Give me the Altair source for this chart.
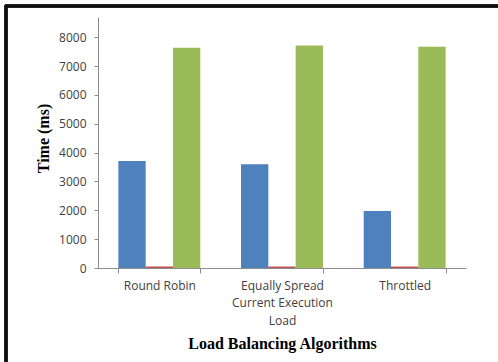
import altair as alt
import pandas as pd

# Load balancing algorithms (x categories); "|" marks a line break in the label
algorithms = ["Round Robin", "Equally Spread|Current Execution|Load", "Throttled"]
series = ["Average", "Minimum", "Maximum"]
colors = ["#4F81BD", "#C0504D", "#9BBB59"]

average_ms = [3710, 3600, 1980]
minimum_ms = [50, 50, 50]
maximum_ms = [7630, 7710, 7665]

y_ticks = [0, 1000, 2000, 3000, 4000, 5000, 6000, 7000, 8000]

rows = []
for i, alg in enumerate(algorithms):
    for s, vals in zip(series, [average_ms, minimum_ms, maximum_ms]):
        rows.append({"algorithm": alg, "series": s, "time": vals[i]})
df = pd.DataFrame(rows)

W, H = 368, 251
axis_gray = "#8C8C8C"

bars = alt.Chart(df).mark_bar(clip=False).encode(
    x=alt.X(
        "algorithm:N",
        sort=algorithms,
        scale=alt.Scale(paddingInner=0.332, paddingOuter=0.166),
        axis=alt.Axis(
            title="Load Balancing Algorithms",
            titleFont="Liberation Serif",
            titleFontSize=16,
            titleFontWeight="bold",
            titleColor="#000000",
            titleBaseline="middle",
            titleY=75,
            labelAngle=0,
            labelFont="Open Sans",
            labelFontSize=12,
            labelColor="#404040",
            labelExpr="split(datum.label, '|')",
            labelLineHeight=17.5,
            labelPadding=7,
            tickBand="extent",
            tickSize=5,
            tickColor=axis_gray,
            domainColor=axis_gray,
            grid=False,
        ),
    ),
    xOffset=alt.XOffset("series:N", sort=series, scale=alt.Scale(paddingInner=0, paddingOuter=0)),
    y=alt.Y(
        "time:Q",
        scale=alt.Scale(domain=[0, 8700], nice=False),
        axis=alt.Axis(
            title="Time (ms)",
            titleFont="Liberation Serif",
            titleFontSize=16,
            titleFontWeight="bold",
            titleColor="#000000",
            titleBaseline="middle",
            titleAlign="center",
            titleAngle=270,
            titleX=-55,
            titleY=121,
            values=y_ticks,
            format="d",
            labelFont="Open Sans",
            labelFontSize=12,
            labelColor="#404040",
            labelPadding=8,
            tickSize=4,
            tickColor=axis_gray,
            domainColor=axis_gray,
            grid=False,
        ),
    ),
    color=alt.Color("series:N", sort=series, scale=alt.Scale(domain=series, range=colors), legend=None),
)

# Dark frame along the top and left edges
frame_left = alt.Chart(df).mark_rule(color="#111111", strokeWidth=2.5).encode(
    x=alt.value(-92), y=alt.value(-12), y2=alt.value(H + 94)
)
frame_top = alt.Chart(df).mark_rule(color="#111111", strokeWidth=2.5).encode(
    x=alt.value(-93), x2=alt.value(W + 32), y=alt.value(-11)
)

chart = alt.layer(bars, frame_left, frame_top).properties(
    width=W,
    height=H,
    padding={"left": 98, "top": 17, "right": 32, "bottom": 94},
    autosize=alt.AutoSizeParams(type="none"),
    background="white",
).configure_view(stroke=None)

chart.save("out.html", embed_options={"renderer": "svg", "actions": False})
